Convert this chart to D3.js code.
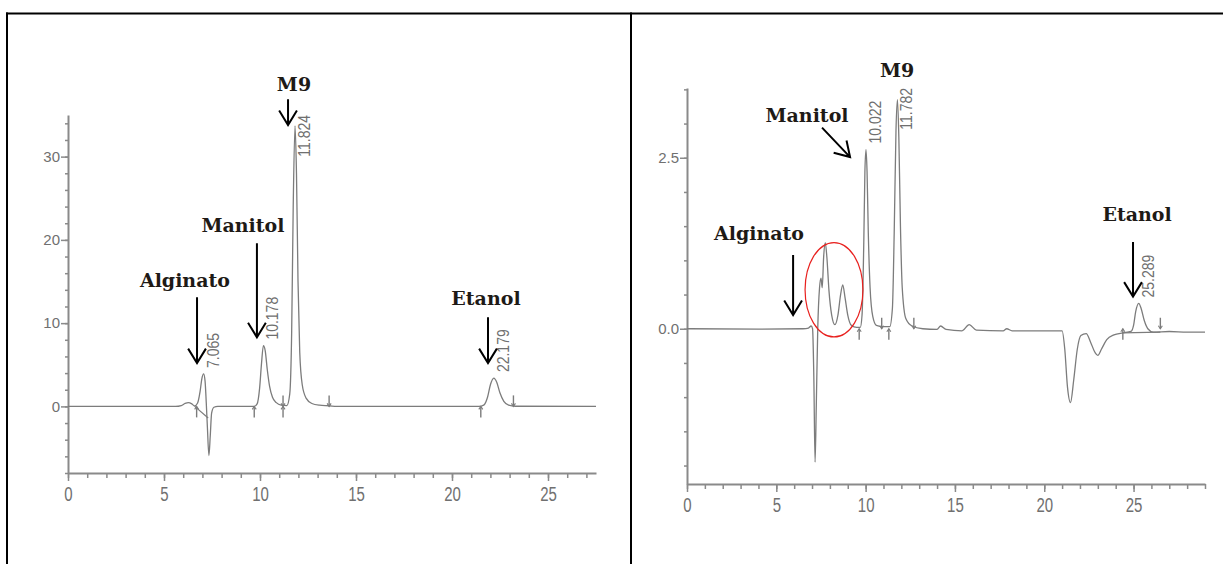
<!DOCTYPE html>
<html>
<head>
<meta charset="utf-8">
<script src="https://cdn.jsdelivr.net/npm/d3@7"></script>
<style>
    body { margin: 0; background: #fff; }
    svg { display: block; }
    .axis path, .axis line { stroke: #8a8a8a; }
    .axis path { stroke-width: 2; }
    .axis line { stroke-width: 1.5; }
    .axis text { font-family: "Liberation Sans", Arial, sans-serif; font-size: 15px; fill: #707070; }
    .trace { fill: none; stroke: #7c7c7c; stroke-width: 1.3; }
    .peak-lbl { font-family: "Liberation Sans", Arial, sans-serif; font-size: 14px; fill: #6f6f6f; }
    .name-lbl { font-family: "DejaVu Serif", serif; font-weight: bold; font-size: 19px; fill: #1e1a16; }
    .arrow { fill: none; stroke: #000; stroke-width: 2; }
</style>
</head>
<body>
<svg id="chart" width="1223" height="564"></svg>
<script>
// Left chromatogram (time in min, signal)
var leftTrace = [
    [0, 0], [5.6, 0], [5.9, 0.1], [6.1, 0.35], [6.27, 0.45], [6.45, 0.3], [6.6, 0.05],
    [6.75, 0.4], [6.88, 1.8], [6.97, 3.3], [7.065, 3.9], [7.14, 3.0], [7.2, 0.5],
    [7.26, -2.5], [7.34, -5.9], [7.41, -3.5], [7.48, -0.8], [7.6, -0.1], [7.8, 0],
    [9.7, 0], [9.85, 0.3], [9.98, 2.2], [10.08, 5.2], [10.178, 7.3], [10.27, 6.7],
    [10.38, 4.4], [10.5, 2.4], [10.65, 1.1], [10.85, 0.45], [11.1, 0.15], [11.4, 0.1],
    [11.55, 1.5], [11.65, 9], [11.73, 24], [11.824, 33.7], [11.9, 28], [11.98, 15],
    [12.07, 6.5], [12.2, 2.6], [12.4, 1.0], [12.7, 0.35], [13.1, 0.15], [13.6, 0.08],
    [14.0, 0], [21.4, 0], [21.65, 0.15], [21.85, 1.1], [22.0, 2.6], [22.179, 3.4],
    [22.33, 2.9], [22.5, 1.6], [22.7, 0.6], [22.95, 0.15], [23.3, 0.02], [27.5, 0]
];
var leftPeaks = [7.065, 10.178, 11.824, 22.179];
var leftMarks = [[6.7, -1], [9.7, -1], [11.2, -1], [11.2, 1], [13.6, 1], [21.5, -1], [23.2, 1]];
var leftBaselines = [[6.6, 0, 7.3, -1.4]];
var leftXTicks = [0, 5, 10, 15, 20, 25];
var leftYTicks = [0, 10, 20, 30];

// Right chromatogram
var rightTrace = [
    [0, 0], [4, -0.005], [6.5, 0], [6.8, 0.01], [6.95, 0.04], [7.03, 0.0], [7.1, -0.7],
    [7.17, -1.95], [7.24, -1.1], [7.32, 0.0], [7.42, 0.6], [7.5, 0.74], [7.57, 0.6],
    [7.65, 1.05], [7.74, 1.26], [7.83, 1.05], [7.95, 0.55], [8.1, 0.2], [8.28, 0.06],
    [8.45, 0.2], [8.6, 0.5], [8.72, 0.64], [8.85, 0.45], [9.0, 0.2], [9.2, 0.05],
    [9.5, 0.02], [9.7, 0.02], [9.8, 0.2], [9.9, 1.3], [9.96, 2.3], [10.022, 2.62],
    [10.08, 2.3], [10.15, 1.4], [10.25, 0.6], [10.4, 0.18], [10.6, 0.05], [11.0, 0.03],
    [11.35, 0.03], [11.5, 0.3], [11.6, 1.4], [11.7, 2.9], [11.782, 3.35], [11.86, 2.8],
    [11.95, 1.5], [12.05, 0.6], [12.25, 0.15], [12.6, 0.04], [13.2, 0], [14.0, -0.01],
    [14.2, 0.04], [14.5, -0.01], [15.4, -0.03], [15.8, 0.06], [16.2, -0.02], [17.7, -0.03],
    [17.9, 0.0], [18.2, -0.03], [21.0, -0.03], [21.15, -0.3], [21.3, -0.85], [21.47, -1.08],
    [21.65, -0.75], [21.85, -0.3], [22.05, -0.1], [22.35, -0.07], [22.6, -0.2], [22.85, -0.35],
    [23.0, -0.39], [23.2, -0.3], [23.5, -0.16], [23.9, -0.09], [24.4, -0.06], [24.85, -0.04],
    [25.0, 0.05], [25.12, 0.25], [25.289, 0.37], [25.42, 0.3], [25.6, 0.12], [25.8, 0.0],
    [26.1, -0.05], [27, -0.04], [28, -0.05], [29, -0.05]
];
var rightPeaks = [10.022, 11.782, 25.289];
var rightMarks = [[9.64, -1], [10.9, 1], [11.3, -1], [12.7, 1], [24.4, -1], [26.5, 1]];
var rightBaselines = [[24.35, -0.06, 26.5, -0.05]];
var rightXTicks = [0, 5, 10, 15, 20, 25];
var rightYTicks = [0, 2.5];

// compound annotations, in data units (label centre, arrow start, arrow end)
var leftNotes = [
    {name: "Alginato", at: [6.09, 15.2], from: [6.72, 13.1], to: [6.72, 5.2]},
    {name: "Manitol", at: [9.11, 21.8], from: [9.84, 19.6], to: [9.84, 8.3]},
    {name: "M9", at: [11.77, 38.7], from: [11.46, 36.9], to: [11.46, 33.8]},
    {name: "Etanol", at: [21.77, 13.0], from: [21.875, 10.7], to: [21.875, 5.2]}
];
var rightNotes = [
    {name: "Alginato", at: [4.03, 1.40], from: [5.94, 1.08], to: [5.94, 0.20]},
    {name: "Manitol", at: [6.72, 3.13], from: [7.56, 2.94], to: [9.13, 2.51]},
    {name: "M9", at: [11.76, 3.79]},
    {name: "Etanol", at: [25.2, 1.68], from: [24.97, 1.27], to: [24.97, 0.47]}
];
var rightCircle = {c: [8.23, 0.57], r: [1.62, 0.69]};

var chrom = {
    svg: d3.select("#chart"),

    frame: function () {
        var svg = this.svg;
        svg.append("line").attr("x1", 6).attr("x2", 1223).attr("y1", 13.5).attr("y2", 13.5)
            .attr("stroke", "#000").attr("stroke-width", 2);
        svg.append("line").attr("x1", 7).attr("x2", 7).attr("y1", 12.5).attr("y2", 564)
            .attr("stroke", "#000").attr("stroke-width", 2);
        svg.append("line").attr("x1", 631).attr("x2", 631).attr("y1", 12.5).attr("y2", 564)
            .attr("stroke", "#000").attr("stroke-width", 2);
    },

    arrow: function (g, x1, y1, x2, y2) {
        var a = Math.atan2(y2 - y1, x2 - x1), len = 17, spread = 0.55;
        var p = d3.path();
        p.moveTo(x1, y1);
        p.lineTo(x2, y2);
        p.moveTo(x2 - len * Math.cos(a - spread), y2 - len * Math.sin(a - spread));
        p.lineTo(x2, y2);
        p.lineTo(x2 - len * Math.cos(a + spread), y2 - len * Math.sin(a + spread));
        g.append("path").attr("class", "arrow").attr("d", p.toString());
    },

    panel: function (o) {
        var self = this;
        var x = d3.scaleLinear().domain(o.xDomain).range(o.xRange);
        var y = d3.scaleLinear().domain(o.yDomain).range(o.yRange);
        var g = self.svg.append("g");
        var baseY = o.yRange[0];

        // x axis: minor every minute, labelled every five
        g.append("g").attr("class", "axis").attr("transform", "translate(0," + baseY + ")")
            .call(d3.axisBottom(x).tickValues(d3.range(0, Math.floor(o.xDomain[1]) + 1))
                .tickSize(5).tickSizeOuter(0).tickFormat(""));
        var xa = g.append("g").attr("class", "axis").attr("transform", "translate(0," + baseY + ")")
            .call(d3.axisBottom(x).tickValues(o.xTicks).tickSize(8).tickSizeOuter(0).tickPadding(2));
        xa.select(".domain").remove();
        xa.selectAll("text").attr("transform", "scale(1,1.35)");

        // y axis
        g.append("g").attr("class", "axis").attr("transform", "translate(" + o.xRange[0] + ",0)")
            .call(d3.axisLeft(y).tickValues(o.yMinor).tickSize(3).tickSizeOuter(0).tickFormat(""));
        var ya = g.append("g").attr("class", "axis").attr("transform", "translate(" + o.xRange[0] + ",0)")
            .call(d3.axisLeft(y).tickValues(o.yTicks).tickSize(7).tickSizeOuter(0).tickPadding(1)
                .tickFormat(d3.format(o.yFormat)));
        ya.select(".domain").remove();
        g.selectAll(".axis .domain").attr("stroke", "#8a8a8a");

        // integration baselines and markers
        o.baselines.forEach(function (b) {
            g.append("line").attr("x1", x(b[0])).attr("y1", y(b[1])).attr("x2", x(b[2])).attr("y2", y(b[3]))
                .attr("stroke", "#7c7c7c").attr("stroke-width", 1.2);
        });
        o.marks.forEach(function (m) {
            var mx = x(m[0]), my = y(0);
            g.append("line").attr("x1", mx).attr("x2", mx).attr("y1", my).attr("y2", my - m[1] * 11)
                .attr("stroke", "#7c7c7c").attr("stroke-width", 1.4);
            g.append("path").attr("fill", "none").attr("stroke", "#7c7c7c").attr("stroke-width", 1.1)
                .attr("d", "M" + (mx - 2) + "," + (my - m[1] * 3) + "L" + mx + "," + my + "L" + (mx + 2) + "," + (my - m[1] * 3));
        });

        var line = d3.line().x(function (d) { return x(d[0]); }).y(function (d) { return y(d[1]); })
            .curve(d3.curveMonotoneX);
        g.append("path").attr("class", "trace").attr("d", line(o.trace));

        // retention time labels, rotated beside each apex
        var top = o.yRange[1];
        o.peaks.forEach(function (t) {
            var apex = o.trace.filter(function (d) { return d[0] === t; })[0];
            var px = x(t) + 10, py = y(apex[1]) - 6;
            var txt = g.append("text").attr("class", "peak-lbl").text(d3.format(".3f")(t));
            var w = txt.node().getComputedTextLength();
            py = Math.max(py, top + w);
            txt.attr("transform", "translate(" + (px + 5) + "," + py + ") rotate(-90) scale(1,1.2)");
        });

        o.notes.forEach(function (n) {
            g.append("text").attr("class", "name-lbl").attr("text-anchor", "middle")
                .attr("dominant-baseline", "central")
                .attr("x", x(n.at[0])).attr("y", y(n.at[1])).text(n.name);
            if (n.from) self.arrow(g, x(n.from[0]), y(n.from[1]), x(n.to[0]), y(n.to[1]));
        });

        if (o.circle) {
            var c = o.circle;
            g.append("ellipse").attr("cx", x(c.c[0])).attr("cy", y(c.c[1]))
                .attr("rx", x(c.c[0] + c.r[0]) - x(c.c[0])).attr("ry", y(c.c[1]) - y(c.c[1] + c.r[1]))
                .attr("fill", "none").attr("stroke", "#e8201e").attr("stroke-width", 1.2);
        }
    },

    init: function () {
        this.frame();
        this.panel({
            xDomain: [0, 27.5], xRange: [68, 596],
            yDomain: [-8, 35], yRange: [473, 115],
            xTicks: leftXTicks, yTicks: leftYTicks, yMinor: d3.range(-8, 35, 2), yFormat: "d",
            trace: leftTrace, peaks: leftPeaks, marks: leftMarks, baselines: leftBaselines,
            notes: leftNotes
        });
        this.panel({
            xDomain: [0, 29], xRange: [687, 1205],
            yDomain: [-2.27, 3.52], yRange: [484, 88],
            xTicks: rightXTicks, yTicks: rightYTicks, yMinor: d3.range(-2, 3.6, 0.5), yFormat: ".1f",
            trace: rightTrace, peaks: rightPeaks, marks: rightMarks, baselines: rightBaselines,
            notes: rightNotes, circle: rightCircle
        });
    }
};

chrom.init();
</script>
</body>
</html>
